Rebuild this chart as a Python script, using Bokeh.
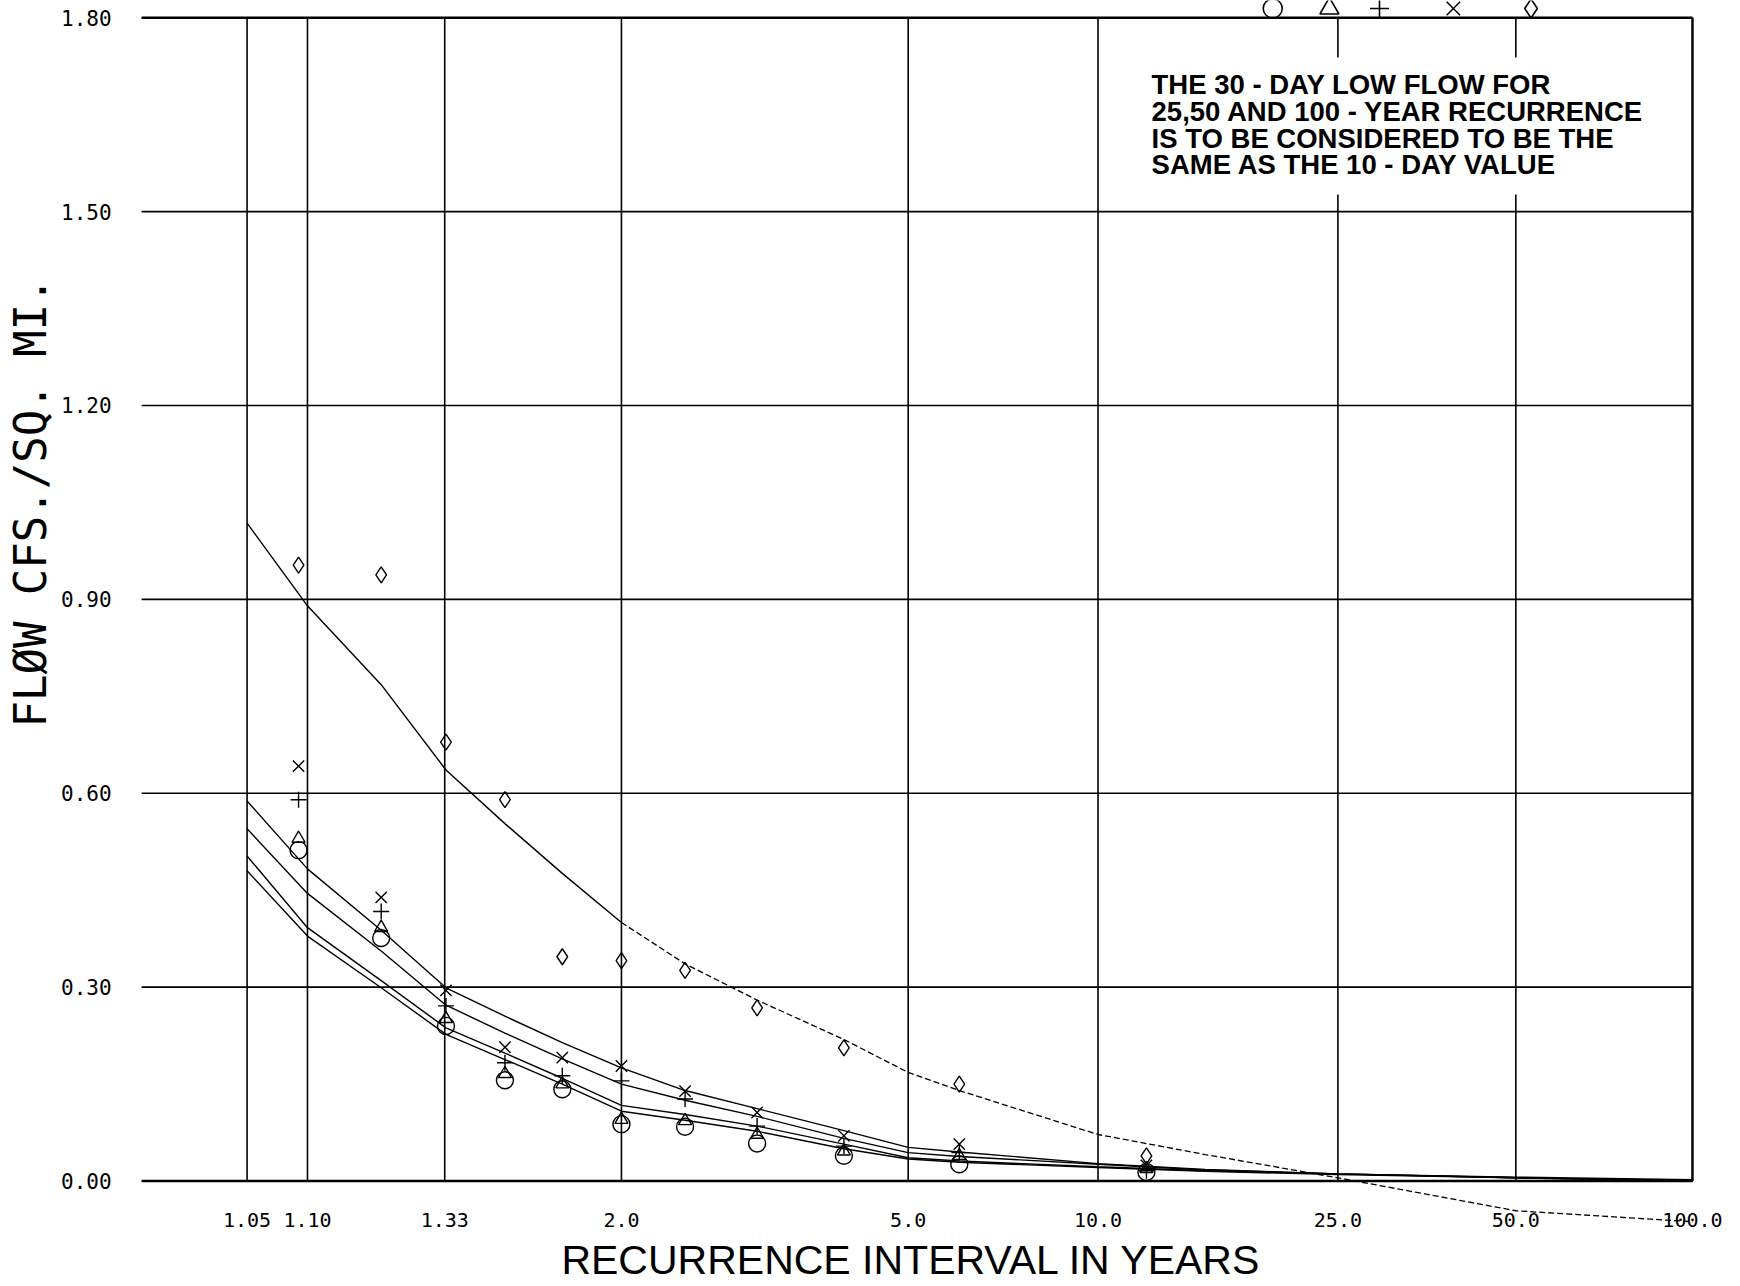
import numpy as np
from bokeh.plotting import figure
from bokeh.models import (LinearAxis, FixedTicker, CustomJSTickFormatter,
                          PrintfTickFormatter)
from bokeh.core.properties import value
from bokeh.embed import file_html
from bokeh.resources import INLINE

# ---- axis ticks -------------------------------------------------------------
tick_years = [1.05, 1.10, 1.33, 2.0, 5.0, 10.0, 25.0, 50.0, 100.0]
tick_labels = ["1.05", "1.10", "1.33", "2.0", "5.0", "10.0", "25.0", "50.0", "100.0"]
flow_ticks = [0.0, 0.3, 0.6, 0.9, 1.2, 1.5, 1.8]

# ---- observed low flows (cfs per sq. mi.) at their plotting positions -------
obs_years = [1.091, 1.2, 1.333, 1.5, 1.714, 2.0, 2.4, 3.0, 4.0, 6.0, 12.0]
obs_circle = [0.512, 0.376, 0.240, 0.156, 0.142, 0.088, 0.084, 0.058, 0.039, 0.026, 0.014]
obs_triangle = [0.530, 0.392, 0.251, 0.166, 0.150, 0.095, 0.093, 0.072, 0.046, 0.039, 0.019]
obs_plus = [0.590, 0.417, 0.271, 0.183, 0.163, 0.155, 0.127, 0.085, 0.054, 0.044, 0.016]
obs_x = [0.642, 0.439, 0.295, 0.207, 0.191, 0.178, 0.139, 0.106, 0.070, 0.057, 0.024]
obs_diamond = [0.953, 0.938, 0.679, 0.590, 0.347, 0.341, 0.326, 0.268, 0.206, 0.150, 0.039]

# ---- fitted frequency curves --------------------------------------------------
curve_years = [1.05, 1.10, 1.2, 1.333, 1.5, 1.714, 2.0, 2.4, 3.0, 4.0, 5.0, 6.0,
               10.0, 15.0, 25.0, 50.0, 100.0]
curve_circle = [0.480, 0.379, 0.299, 0.227, 0.188, 0.150, 0.108, 0.094, 0.077, 0.050,
                0.034, 0.029, 0.021, 0.015, 0.010, 0.005, 0.000]
curve_triangle = [0.503, 0.392, 0.310, 0.237, 0.198, 0.159, 0.117, 0.103, 0.085, 0.057,
                  0.036, 0.031, 0.022, 0.016, 0.011, 0.005, 0.000]
curve_plus = [0.545, 0.445, 0.356, 0.272, 0.229, 0.189, 0.150, 0.125, 0.100, 0.066,
              0.044, 0.038, 0.026, 0.017, 0.011, 0.005, 0.001]
curve_x = [0.588, 0.483, 0.388, 0.299, 0.255, 0.214, 0.175, 0.140, 0.112, 0.078,
           0.052, 0.045, 0.027, 0.018, 0.011, 0.006, 0.002]
curve_diamond = [1.018, 0.890, 0.768, 0.636, 0.553, 0.476, 0.400, 0.336, 0.280, 0.219,
                 0.168, 0.140, 0.072, 0.041, 0.005, -0.046, -0.063]

note_lines = ["THE 30 - DAY LOW FLOW FOR",
              "25,50 AND 100 - YEAR RECURRENCE",
              "IS TO BE CONSIDERED TO BE THE",
              "SAME AS THE 10 - DAY VALUE"]
legend_markers = ["circle", "triangle", "cross", "x", "diamond"]


def gumbel(years):
    """Gumbel reduced variate of a recurrence interval (probability paper axis)."""
    t = np.asarray(years, dtype=float)
    return -np.log(-np.log(1.0 - 1.0 / t))


MONO = value("DejaVu Sans Mono")
SANS = value("Liberation Sans")

p = figure(width=1740, height=1286, x_range=(-2.088, 4.790), y_range=(-0.1632, 1.8266),
           x_axis_location=None, y_axis_location=None, title=None,
           toolbar_location=None, output_backend="svg", min_border=0)
p.outline_line_color = None
p.xgrid.visible = False
p.ygrid.visible = False
p.background_fill_color = "white"
p.border_fill_color = "white"

g_ticks = gumbel(tick_years)
g_left = -1.530
g_right = float(g_ticks[-1])

# ---- grid ---------------------------------------------------------------------
p.segment(x0=[g_left] * len(flow_ticks), x1=[g_right] * len(flow_ticks),
          y0=flow_ticks, y1=flow_ticks, line_color="black", line_width=1.6)
p.segment(x0=g_ticks, x1=g_ticks, y0=[flow_ticks[0]] * len(g_ticks),
          y1=[flow_ticks[-1]] * len(g_ticks), line_color="black", line_width=1.6)
# heavier base line, top line and right border
p.segment(x0=[g_left, g_left], x1=[g_right, g_right],
          y0=[flow_ticks[0], flow_ticks[-1]], y1=[flow_ticks[0], flow_ticks[-1]],
          line_color="black", line_width=2.5)
p.segment(x0=[g_right], x1=[g_right], y0=[flow_ticks[0]], y1=[flow_ticks[-1]],
          line_color="black", line_width=2.2)

# ---- axes drawn inside the frame ------------------------------------------------
xaxis = LinearAxis(fixed_location=0.0)
xaxis.ticker = FixedTicker(ticks=list(g_ticks))
xaxis.formatter = CustomJSTickFormatter(
    args=dict(pos=list(g_ticks), labels=tick_labels),
    code="""
        let best = 0;
        for (let i = 1; i < pos.length; i++) {
            if (Math.abs(pos[i] - tick) < Math.abs(pos[best] - tick)) best = i;
        }
        return labels[best];
    """)
xaxis.axis_line_color = None
xaxis.major_tick_line_color = None
xaxis.minor_tick_line_color = None
xaxis.major_label_standoff = 26
xaxis.major_label_text_font = "DejaVu Sans Mono"
xaxis.major_label_text_font_size = "20px"
xaxis.major_label_text_color = "black"
p.add_layout(xaxis, "below")

yaxis = LinearAxis(fixed_location=g_left)
yaxis.ticker = FixedTicker(ticks=flow_ticks)
yaxis.formatter = PrintfTickFormatter(format="%.2f")
yaxis.axis_line_color = None
yaxis.major_tick_line_color = None
yaxis.minor_tick_line_color = None
yaxis.major_label_standoff = 24
yaxis.major_label_text_font = "DejaVu Sans Mono"
yaxis.major_label_text_font_size = "21px"
yaxis.major_label_text_color = "black"
p.add_layout(yaxis, "left")

# ---- fitted curves ----------------------------------------------------------------
g_curve = gumbel(curve_years)
for vals in (curve_circle, curve_triangle, curve_plus, curve_x):
    p.line(g_curve, vals, line_color="black", line_width=1.4)

split = curve_years.index(2.0)
p.line(g_curve[:split + 1], curve_diamond[:split + 1], line_color="black", line_width=1.4)
p.line(g_curve[split:], curve_diamond[split:], line_color="black", line_width=1.3,
       line_dash="6 3")

# ---- observed points ----------------------------------------------------------------
g_obs = gumbel(obs_years)
marker_style = dict(fill_color=None, line_color="black", line_width=1.4)
p.scatter(g_obs, obs_circle, marker="circle", size=17, **marker_style)
p.scatter(g_obs, obs_triangle, marker="triangle", size=13, **marker_style)
p.scatter(g_obs, obs_plus, marker="cross", size=16, **marker_style)
p.scatter(g_obs, obs_x, marker="x", size=16, **marker_style)
p.scatter(g_obs, obs_diamond, marker="diamond", size=16, **marker_style)

# ---- symbol key along the top edge ---------------------------------------------------
key_x = [2.941, 3.165, 3.363, 3.655, 3.962]
key_y = 1.8142
for kx, mk in zip(key_x, legend_markers):
    p.scatter([kx], [key_y], marker=mk, size=19, fill_color=None,
              line_color="black", line_width=1.6)

# ---- note -------------------------------------------------------------------------------
note_x, note_top, note_step = 2.462, 1.696, 0.0412
p.quad(left=[2.379], right=[4.493], bottom=[1.5264], top=[1.7384],
       fill_color="white", line_color=None)
p.text(x=[note_x] * len(note_lines),
       y=[note_top - i * note_step for i in range(len(note_lines))],
       text=note_lines, text_font=SANS, text_font_size="27.5px",
       text_font_style="bold", text_baseline="middle", text_align="left",
       text_color="black")

# ---- axis titles ----------------------------------------------------------------------
p.text(x=[1.513], y=[-0.1225], text=["RECURRENCE INTERVAL IN YEARS"],
       text_font=SANS, text_font_size="41px", text_align="center",
       text_baseline="middle", text_color="black")
p.text(x=[-1.969], y=[1.050], text=["FLØW CFS./SQ. MI."], angle=np.pi / 2,
       text_font=MONO, text_font_size="44px", text_align="center",
       text_baseline="middle", text_color="black")

open("out.html", "w").write(file_html(p, INLINE))
